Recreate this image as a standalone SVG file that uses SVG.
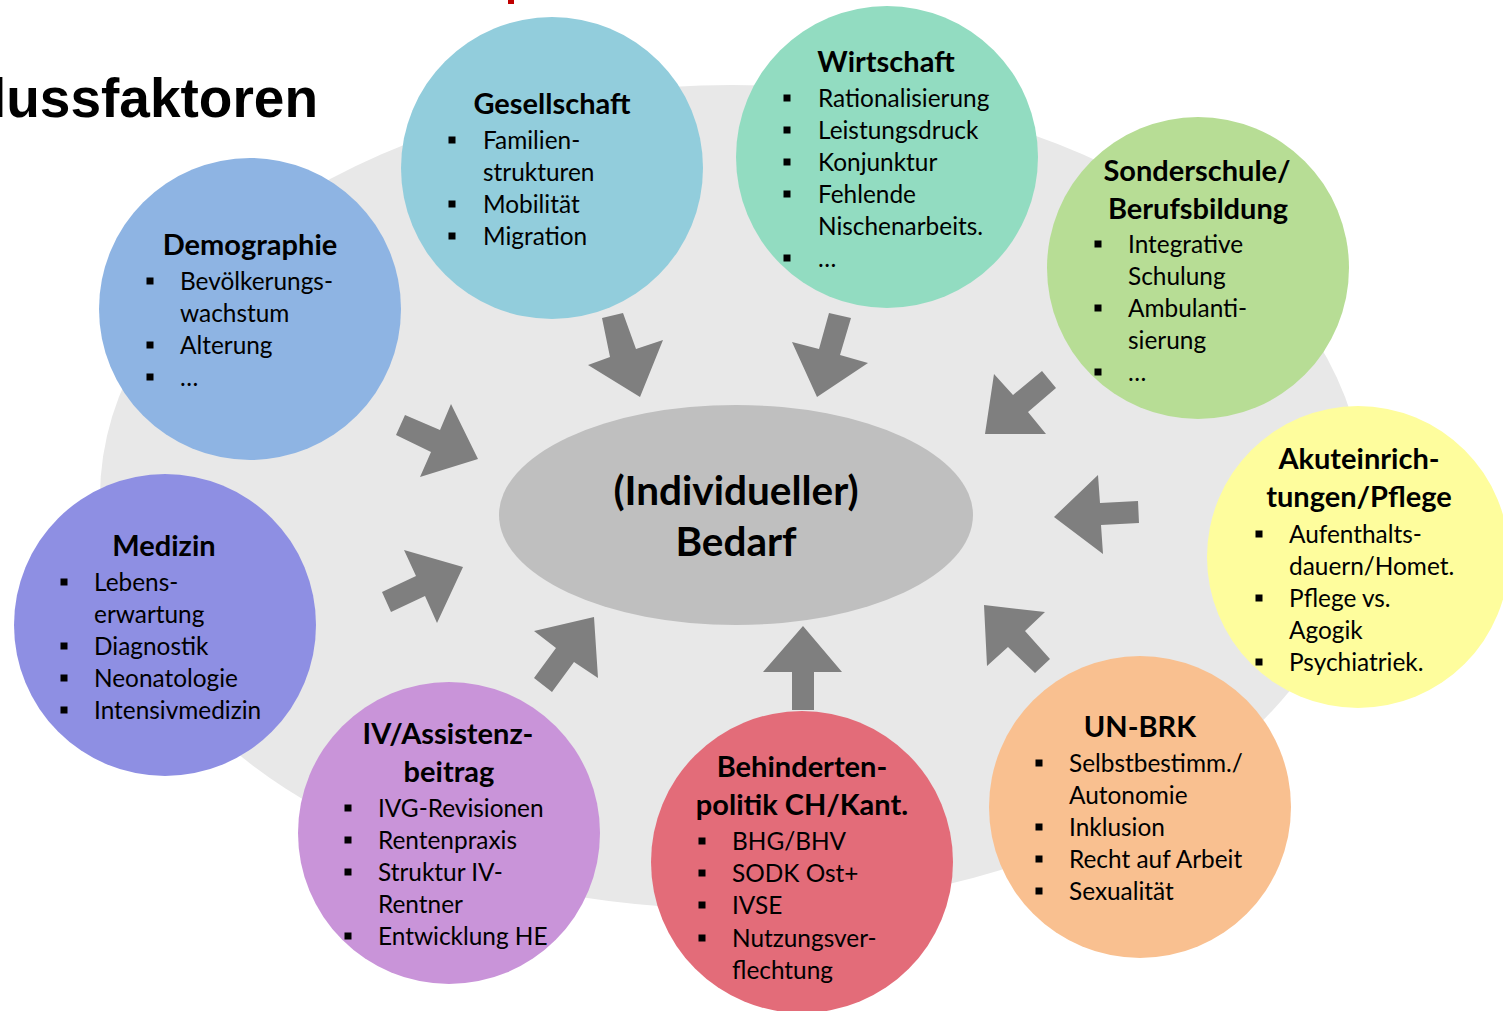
<svg xmlns="http://www.w3.org/2000/svg" width="1503" height="1011" viewBox="0 0 1503 1011">
<style>
.tt{font-family:Lato,"Open Sans","DejaVu Sans",sans-serif;font-weight:bold;font-size:29px;text-anchor:middle;fill:#000}
.it{font-family:Lato,"Open Sans","DejaVu Sans",sans-serif;font-size:24.4px;fill:#000}
.ct{font-family:Lato,"Open Sans","DejaVu Sans",sans-serif;font-weight:bold;font-size:40.5px;text-anchor:middle;fill:#000}
.hd{font-family:"Liberation Sans",Arial,sans-serif;font-weight:bold;font-size:55px;text-anchor:end;fill:#000}
.ar{fill:#7f7f7f}
</style>
<defs>
<rect id="bu" x="-3.5" y="-3.5" width="7" height="7" fill="#000"/>
</defs>
<rect x="0" y="0" width="1503" height="1011" fill="#fff"/>
<rect x="508" y="0" width="6" height="4" fill="#c00000"/>
<text class="hd" x="318" y="117">Einflussfaktoren</text>
<ellipse id="background" cx="732" cy="497" rx="632" ry="412" fill="#e8e8e8"/>
<g id="center">
<ellipse cx="736" cy="515" rx="237" ry="110" fill="#bfbfbf"/>
<text class="ct" x="736" y="505">(Individueller)</text>
<text class="ct" x="736" y="556">Bedarf</text>
</g>
<g id="connectors">
<polygon class="ar" points="602,318 623,313 636,349 663,340 640,397 588,365 610,357"/>
<polygon class="ar" points="829,313 851,318 840,355 868,363 817,397 792,342 819,349"/>
<polygon class="ar" points="1042,371 1056,388 1028,412 1046,434 985,434 994,374 1013,395"/>
<polygon class="ar" points="1138,501 1139,523 1101,525 1103,554 1054,517 1098,475 1100,503"/>
<polygon class="ar" points="1050,659 1035,673 1008,647 987,666 984,605 1045,612 1025,631"/>
<polygon class="ar" points="792,710 792,672 763,672 803,626 842,672 814,672 814,710"/>
<polygon class="ar" points="534,678 556,648 534,631 594,617 598,678 574,662 552,692"/>
<polygon class="ar" points="382,592 416,576 404,550 463,567 437,623 425,596 391,612"/>
<polygon class="ar" points="405,415 440,430 451,404 478,459 420,477 431,452 396,435"/>
</g>
<g id="gesellschaft">
<circle cx="552" cy="168" r="151" fill="#92cddc"/>
<text class="tt" x="552" y="114">Gesellschaft</text>
<use href="#bu" x="452" y="140"/><use href="#bu" x="452" y="204"/><use href="#bu" x="452" y="236"/>
<text class="it" x="483" y="149">Familien-</text>
<text class="it" x="483" y="181">strukturen</text>
<text class="it" x="483" y="213">Mobilität</text>
<text class="it" x="483" y="245">Migration</text>
</g>
<g id="wirtschaft">
<circle cx="887" cy="157" r="151" fill="#92dcc1"/>
<text class="tt" x="886" y="72">Wirtschaft</text>
<use href="#bu" x="787" y="98"/><use href="#bu" x="787" y="130"/><use href="#bu" x="787" y="162"/><use href="#bu" x="787" y="194"/><use href="#bu" x="787" y="258"/>
<text class="it" x="818" y="107">Rationalisierung</text>
<text class="it" x="818" y="139">Leistungsdruck</text>
<text class="it" x="818" y="171">Konjunktur</text>
<text class="it" x="818" y="203">Fehlende</text>
<text class="it" x="818" y="235">Nischenarbeits.</text>
<text class="it" x="818" y="267">…</text>
</g>
<g id="sonderschule">
<circle cx="1198" cy="268" r="151" fill="#b7dd95"/>
<text class="tt" x="1197" y="181">Sonderschule/</text>
<text class="tt" x="1198" y="219">Berufsbildung</text>
<use href="#bu" x="1098" y="244"/><use href="#bu" x="1098" y="308"/><use href="#bu" x="1098" y="372"/>
<text class="it" x="1128" y="253">Integrative</text>
<text class="it" x="1128" y="285">Schulung</text>
<text class="it" x="1128" y="317">Ambulanti-</text>
<text class="it" x="1128" y="349">sierung</text>
<text class="it" x="1128" y="381">…</text>
</g>
<g id="akuteinrichtungen">
<circle cx="1358" cy="557" r="151" fill="#fefd9d"/>
<text class="tt" x="1359" y="469">Akuteinrich-</text>
<text class="tt" x="1359" y="507">tungen/Pflege</text>
<use href="#bu" x="1259" y="534"/><use href="#bu" x="1259" y="598"/><use href="#bu" x="1259" y="662"/>
<text class="it" x="1289" y="543">Aufenthalts-</text>
<text class="it" x="1289" y="575">dauern/Homet.</text>
<text class="it" x="1289" y="607">Pflege vs.</text>
<text class="it" x="1289" y="639">Agogik</text>
<text class="it" x="1289" y="671">Psychiatriek.</text>
</g>
<g id="unbrk">
<circle cx="1140" cy="807" r="151" fill="#f9c090"/>
<text class="tt" x="1140" y="737">UN-BRK</text>
<use href="#bu" x="1039" y="763"/><use href="#bu" x="1039" y="827"/><use href="#bu" x="1039" y="859"/><use href="#bu" x="1039" y="891"/>
<text class="it" x="1069" y="772">Selbstbestimm./</text>
<text class="it" x="1069" y="804">Autonomie</text>
<text class="it" x="1069" y="836">Inklusion</text>
<text class="it" x="1069" y="868">Recht auf Arbeit</text>
<text class="it" x="1069" y="900">Sexualität</text>
</g>
<g id="behindertenpolitik">
<circle cx="802" cy="862" r="151" fill="#e36c79"/>
<text class="tt" x="802" y="777">Behinderten-</text>
<text class="tt" x="802" y="815">politik CH/Kant.</text>
<use href="#bu" x="702" y="841"/><use href="#bu" x="702" y="873"/><use href="#bu" x="702" y="905"/><use href="#bu" x="702" y="938"/>
<text class="it" x="732" y="850">BHG/BHV</text>
<text class="it" x="732" y="882">SODK Ost+</text>
<text class="it" x="732" y="914">IVSE</text>
<text class="it" x="732" y="947">Nutzungsver-</text>
<text class="it" x="732" y="979">flechtung</text>
</g>
<g id="iv">
<circle cx="449" cy="833" r="151" fill="#c994d9"/>
<text class="tt" x="448" y="744">IV/Assistenz-</text>
<text class="tt" x="449" y="782">beitrag</text>
<use href="#bu" x="348" y="808"/><use href="#bu" x="348" y="840"/><use href="#bu" x="348" y="872"/><use href="#bu" x="348" y="936"/>
<text class="it" x="378" y="817">IVG-Revisionen</text>
<text class="it" x="378" y="849">Rentenpraxis</text>
<text class="it" x="378" y="881">Struktur IV-</text>
<text class="it" x="378" y="913">Rentner</text>
<text class="it" x="378" y="945">Entwicklung HE</text>
</g>
<g id="medizin">
<circle cx="165" cy="625" r="151" fill="#8e8fe3"/>
<text class="tt" x="164" y="556">Medizin</text>
<use href="#bu" x="64" y="582"/><use href="#bu" x="64" y="646"/><use href="#bu" x="64" y="678"/><use href="#bu" x="64" y="710"/>
<text class="it" x="94" y="591">Lebens-</text>
<text class="it" x="94" y="623">erwartung</text>
<text class="it" x="94" y="655">Diagnostik</text>
<text class="it" x="94" y="687">Neonatologie</text>
<text class="it" x="94" y="719">Intensivmedizin</text>
</g>
<g id="demographie">
<circle cx="250" cy="309" r="151" fill="#8eb4e3"/>
<text class="tt" x="250" y="255">Demographie</text>
<use href="#bu" x="150" y="281"/><use href="#bu" x="150" y="345"/><use href="#bu" x="150" y="377"/>
<text class="it" x="180" y="290">Bevölkerungs-</text>
<text class="it" x="180" y="322">wachstum</text>
<text class="it" x="180" y="354">Alterung</text>
<text class="it" x="180" y="386">…</text>
</g>
</svg>
